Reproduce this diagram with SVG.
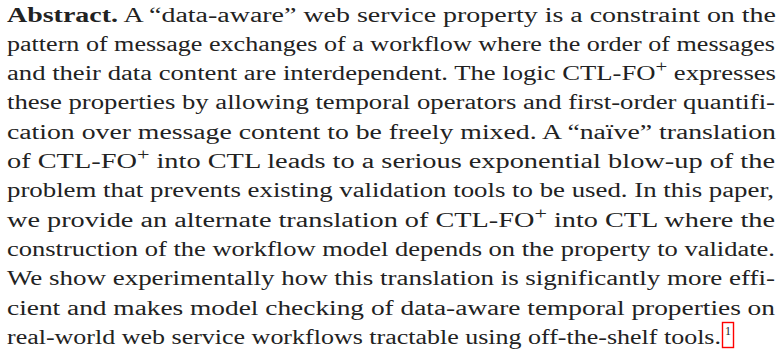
<svg xmlns="http://www.w3.org/2000/svg" width="781" height="351" viewBox="0 0 781 351">
<style>
.t{font-family:"Liberation Serif","Times New Roman",serif;font-size:20.5px;fill:#222222}
.b{font-weight:bold}
.sup{font-size:16px}
.fn{font-family:"Liberation Serif",serif;font-size:12px;fill:#222222}
</style>
<rect width="781" height="351" fill="#ffffff"/>
<g id="abstract">
<text class="t" x="7" y="21.5" textLength="769" lengthAdjust="spacingAndGlyphs"><tspan class="b">Abstract.</tspan> A “data-aware” web service property is a constraint on the</text>
<text class="t" x="7" y="50.8" textLength="768" lengthAdjust="spacingAndGlyphs">pattern of message exchanges of a workflow where the order of messages</text>
<text class="t" x="7" y="80.1" textLength="769" lengthAdjust="spacingAndGlyphs">and their data content are interdependent. The logic CTL-FO<tspan class="sup" dy="-8">+</tspan><tspan dy="8"> expresses</tspan></text>
<text class="t" x="7" y="109.4" textLength="768" lengthAdjust="spacingAndGlyphs">these properties by allowing temporal operators and first-order quantifi-</text>
<text class="t" x="7" y="138.7" textLength="769" lengthAdjust="spacingAndGlyphs">cation over message content to be freely mixed. A “naïve” translation</text>
<text class="t" x="7" y="168" textLength="768" lengthAdjust="spacingAndGlyphs">of CTL-FO<tspan class="sup" dy="-8">+</tspan><tspan dy="8"> into CTL leads to a serious exponential blow-up of the</tspan></text>
<text class="t" x="7" y="197.3" textLength="767" lengthAdjust="spacingAndGlyphs">problem that prevents existing validation tools to be used. In this paper,</text>
<text class="t" x="7" y="226.6" textLength="768" lengthAdjust="spacingAndGlyphs">we provide an alternate translation of CTL-FO<tspan class="sup" dy="-8">+</tspan><tspan dy="8"> into CTL where the</tspan></text>
<text class="t" x="7" y="255.9" textLength="768" lengthAdjust="spacingAndGlyphs">construction of the workflow model depends on the property to validate.</text>
<text class="t" x="7" y="285.2" textLength="768" lengthAdjust="spacingAndGlyphs">We show experimentally how this translation is significantly more effi-</text>
<text class="t" x="7" y="314.5" textLength="768" lengthAdjust="spacingAndGlyphs">cient and makes model checking of data-aware temporal properties on</text>
<text class="t" x="7" y="343.8" textLength="714" lengthAdjust="spacingAndGlyphs">real-world web service workflows tractable using off-the-shelf tools.</text>
</g>
<g id="footnote-link">
<rect x="722.5" y="322.5" width="11" height="25" fill="none" stroke="#ff0000" stroke-width="1.4"/>
<text class="fn" x="728" y="334.5" text-anchor="middle">1</text>
</g>
</svg>
